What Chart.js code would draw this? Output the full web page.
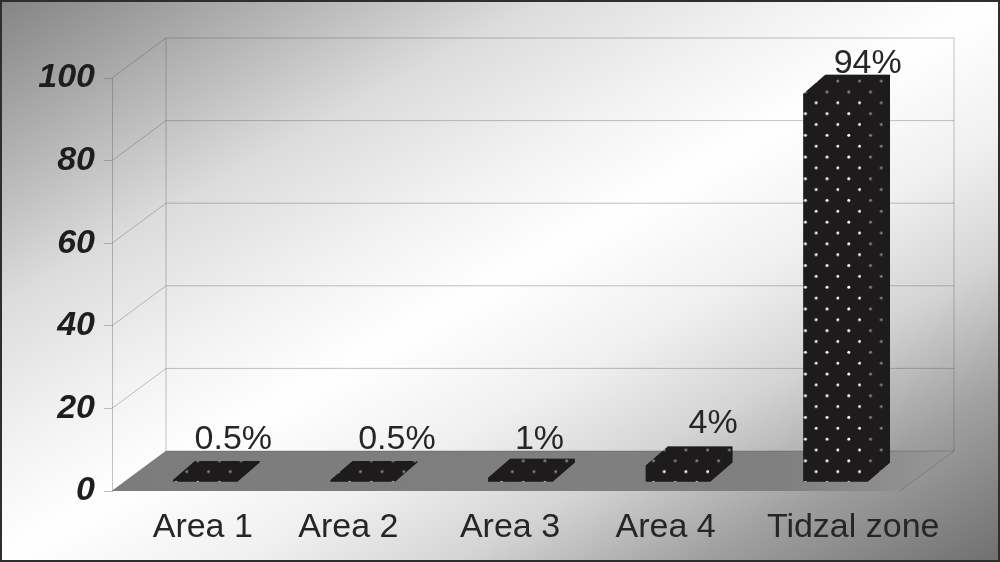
<!DOCTYPE html>
<html>
<head>
<meta charset="utf-8">
<style>
  html, body { margin: 0; padding: 0; }
  #cadre {
    width: 1000px; height: 562px; box-sizing: border-box;
    border: 2px solid #2e2e2e;
    background: linear-gradient(to bottom right, #858585 0%, #a5a5a5 10%, #dcdcdc 27%, #f2f2f2 40%, #ffffff 50%, #f0f0f0 62%, #d4d4d4 73%, #a0a0a0 85%, #707070 100%);
    position: relative;
  }
  canvas { position: absolute; left: -2px; top: -2px; }
</style>
<script src="https://cdn.jsdelivr.net/npm/chart.js@4"></script>
</head>
<body>
<div id="cadre"><canvas id="graphique" width="1000" height="562"></canvas></div>
<script>
// Donnees
let categories = ['Area 1', 'Area 2', 'Area 3', 'Area 4', 'Tidzal zone'];
let valeurs = [0.5, 0.5, 1, 4, 94];
let etiquettes = ['0.5%', '0.5%', '1%', '4%', '94%'];
let graduations = [0, 20, 40, 60, 80, 100];

// Decalages des textes, places a la main dans l'original
let decalageCategories = [12, 0, 4, 2, 32];
let decalageEtiquetteX = [28, 34, 19, 35, 32];
let decalageEtiquetteY = [-31, -31, -29, -32, -21];

// Effet 3D
const profondeurX = 54, profondeurY = -40;   // mur du fond
const barreX = 22, barreY = -19;             // profondeur des barres
const retraitX = 14.5, retraitY = -9;        // barres en retrait du bord du plancher
const police = '"Liberation Sans", Arial, sans-serif';
const couleurTexte = '#262626';
const couleurGrille = 'rgba(80, 80, 80, 0.34)';
const couleurBarre = '#1d1b1c';

// Motif noir a points blancs
function creerMotif(ctx) {
    let c = document.createElement('canvas');
    c.width = 22; c.height = 22;
    let m = c.getContext('2d');
    m.fillStyle = couleurBarre;
    m.fillRect(0, 0, 22, 22);
    m.fillStyle = '#ffffff';
    m.beginPath(); m.arc(20.8, 3.3, 1.5, 0, 2 * Math.PI); m.fill();
    m.beginPath(); m.arc(9.8, 14.3, 1.5, 0, 2 * Math.PI); m.fill();
    let motif = ctx.createPattern(c, 'repeat');
    motif.setTransform(new DOMMatrix().scale(21.7 / 22));
    return motif;
}

function poly(ctx, pts) {
    ctx.beginPath();
    pts.forEach((p, i) => i ? ctx.lineTo(p[0], p[1]) : ctx.moveTo(p[0], p[1]));
    ctx.closePath();
}

// Murs, plancher et lignes de grille derriere les barres
let murs = {
    id: 'murs',
    beforeDatasetsDraw(chart) {
        let ctx = chart.ctx, a = chart.chartArea, y = chart.scales.y;
        ctx.save();
        poly(ctx, [[a.left, a.bottom], [a.left + profondeurX, a.bottom + profondeurY],
                   [a.right + profondeurX, a.bottom + profondeurY], [a.right, a.bottom]]);
        let plancher = ctx.createLinearGradient(a.left, 0, a.right + profondeurX, 0);
        plancher.addColorStop(0, '#7c7c7c');
        plancher.addColorStop(0.8, '#808080');
        plancher.addColorStop(1, '#979797');
        ctx.fillStyle = plancher;
        ctx.fill();
        ctx.strokeStyle = couleurGrille;
        ctx.lineWidth = 1;
        graduations.forEach(g => {
            let py = y.getPixelForValue(g);
            ctx.beginPath();
            ctx.moveTo(a.left, py);
            ctx.lineTo(a.left + profondeurX, py + profondeurY);
            ctx.lineTo(a.right + profondeurX, py + profondeurY);
            ctx.stroke();
        });
        ctx.beginPath();
        ctx.moveTo(a.left + profondeurX, a.top + profondeurY);
        ctx.lineTo(a.left + profondeurX, a.bottom + profondeurY);
        ctx.moveTo(a.right + profondeurX, a.top + profondeurY);
        ctx.lineTo(a.right + profondeurX, a.bottom + profondeurY);
        ctx.lineTo(a.right, a.bottom);
        ctx.stroke();
        ctx.restore();
    }
};

// Les barres sont poussees vers le fond et on ajoute dessus et cote
let barres3d = {
    id: 'barres3d',
    beforeDatasetDraw(chart) {
        let ctx = chart.ctx;
        ctx.save();
        ctx.translate(retraitX, retraitY);
        ctx.fillStyle = chart.data.datasets[0].backgroundColor;
        chart.getDatasetMeta(0).data.forEach(b => {
            let g = b.x - b.width / 2, d = b.x + b.width / 2;
            // silhouette complete, pour eviter les joints entre les faces
            poly(ctx, [[g, b.y], [g + barreX, b.y + barreY], [d + barreX, b.y + barreY],
                       [d + barreX, b.base + barreY], [d, b.base], [g, b.base]]);
            ctx.fill();
        });
    },
    afterDatasetDraw(chart) {
        let ctx = chart.ctx;
        // points plus ternes sur le cote et le dessus
        ctx.fillStyle = 'rgba(29, 27, 28, 0.55)';
        chart.getDatasetMeta(0).data.forEach(b => {
            let g = b.x - b.width / 2, d = b.x + b.width / 2;
            poly(ctx, [[g, b.y], [g + barreX, b.y + barreY], [d + barreX, b.y + barreY],
                       [d + barreX, b.base + barreY], [d, b.base], [d, b.y]]);
            ctx.fill();
        });
        ctx.restore();
    },
    afterDatasetsDraw(chart) {
        let ctx = chart.ctx;
        ctx.save();
        ctx.font = '34px ' + police;
        ctx.fillStyle = couleurTexte;
        ctx.textAlign = 'center';
        ctx.textBaseline = 'alphabetic';
        chart.getDatasetMeta(0).data.forEach((b, i) => {
            ctx.fillText(etiquettes[i], b.x + retraitX + decalageEtiquetteX[i], b.y + retraitY + decalageEtiquetteY[i]);
        });
        ctx.restore();
    },
    afterUpdate(chart) {
        chart.scales.x.getLabelItems().forEach((item, i) => {
            item.options.translation[0] += decalageCategories[i];
        });
    }
};

let ctx = document.getElementById('graphique').getContext('2d');
let chart = new Chart(ctx, {
    type: 'bar',
    data: {
        labels: categories,
        datasets: [{
            data: valeurs,
            backgroundColor: creerMotif(ctx),
            borderWidth: 0,
            categoryPercentage: 1,
            barPercentage: 0.41
        }]
    },
    options: {
        responsive: false,
        animation: false,
        layout: { padding: { top: 78, right: 100, left: 0, bottom: 0 } },
        plugins: { legend: { display: false }, tooltip: { enabled: false } },
        scales: {
            x: {
                afterFit(s) { s.height = 71; },
                grid: { display: false },
                border: { display: false },
                ticks: {
                    color: couleurTexte,
                    padding: 8,
                    maxRotation: 0,
                    autoSkip: false,
                    font: { family: police, size: 34 }
                }
            },
            y: {
                min: 0,
                max: 100,
                afterFit(s) { s.width = 112; },
                afterBuildTicks(s) { s.ticks = graduations.map(v => ({ value: v })); },
                grid: { drawOnChartArea: false, color: couleurGrille, tickLength: 8 },
                border: { color: couleurGrille },
                ticks: {
                    color: '#1e1e1e',
                    padding: 9,
                    font: { family: police, size: 34, weight: 'bold', style: 'italic' }
                }
            }
        }
    },
    plugins: [murs, barres3d]
});
</script>
</body>
</html>
